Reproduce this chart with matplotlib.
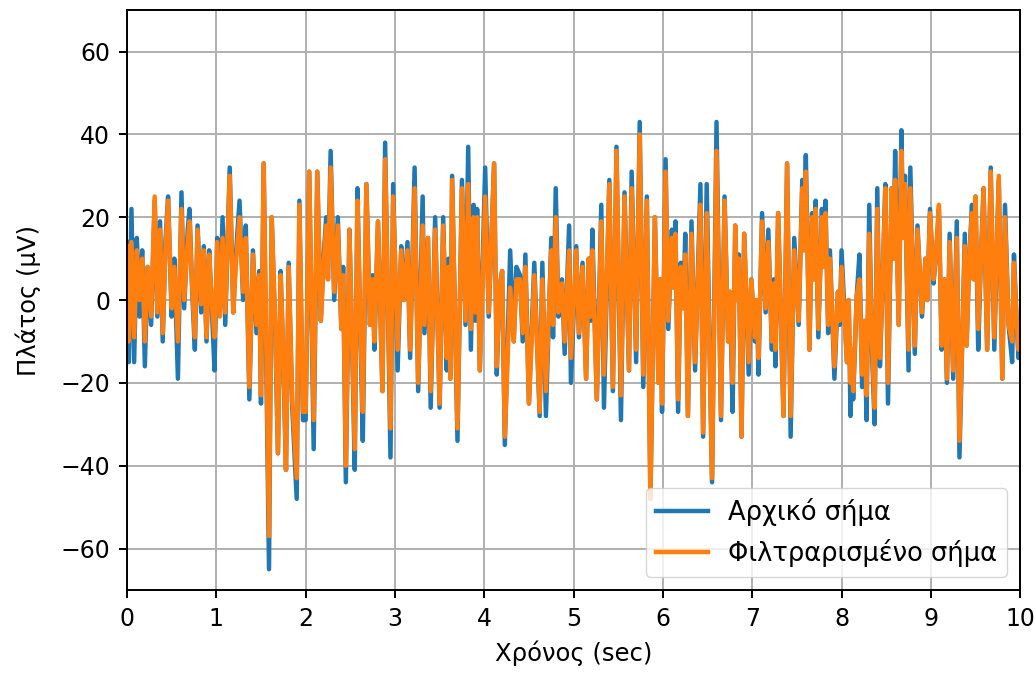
import matplotlib
matplotlib.use("Agg")
import matplotlib.pyplot as plt

# time (sec) of turning points, raw and filtered signal (uV)
t_sec = [0.00, 0.02, 0.05, 0.08, 0.11, 0.14, 0.17, 0.20, 0.23, 0.27, 0.31, 0.34, 0.37, 0.40, 0.43, 0.46,
         0.50, 0.53, 0.57, 0.61, 0.64, 0.68, 0.70, 0.73, 0.76, 0.79, 0.83, 0.86, 0.89, 0.92, 0.95, 0.98,
         1.01, 1.04, 1.07, 1.10, 1.15, 1.19, 1.22, 1.26, 1.30, 1.33, 1.37, 1.41, 1.45, 1.48, 1.50, 1.53,
         1.59, 1.62, 1.66, 1.69, 1.72, 1.75, 1.78, 1.81, 1.85, 1.90, 1.93, 1.97, 2.00, 2.04, 2.09, 2.13,
         2.17, 2.20, 2.23, 2.25, 2.28, 2.32, 2.36, 2.40, 2.42, 2.45, 2.49, 2.52, 2.55, 2.58, 2.61, 2.64,
         2.68, 2.72, 2.75, 2.77, 2.81, 2.86, 2.89, 2.95, 2.98, 3.03, 3.07, 3.10, 3.14, 3.17, 3.22, 3.26,
         3.31, 3.33, 3.37, 3.40, 3.45, 3.50, 3.54, 3.58, 3.60, 3.62, 3.64, 3.70, 3.75, 3.79, 3.82, 3.85,
         3.88, 3.90, 3.92, 3.95, 4.01, 4.05, 4.11, 4.14, 4.17, 4.20, 4.23, 4.29, 4.33, 4.36, 4.40, 4.43,
         4.46, 4.50, 4.56, 4.62, 4.65, 4.69, 4.75, 4.77, 4.80, 4.83, 4.87, 4.90, 4.95, 4.97, 5.03, 5.06,
         5.10, 5.14, 5.17, 5.19, 5.21, 5.26, 5.31, 5.34, 5.40, 5.44, 5.48, 5.53, 5.57, 5.62, 5.65, 5.70,
         5.74, 5.78, 5.82, 5.86, 5.91, 5.95, 5.97, 5.99, 6.03, 6.06, 6.10, 6.12, 6.14, 6.17, 6.20, 6.23,
         6.25, 6.28, 6.32, 6.36, 6.42, 6.45, 6.49, 6.55, 6.60, 6.65, 6.69, 6.73, 6.75, 6.78, 6.81, 6.83,
         6.85, 6.88, 6.91, 6.96, 6.99, 7.03, 7.05, 7.07, 7.11, 7.15, 7.18, 7.22, 7.24, 7.26, 7.29, 7.35,
         7.39, 7.43, 7.47, 7.52, 7.56, 7.575, 7.60, 7.64, 7.67, 7.69, 7.71, 7.74, 7.78, 7.80, 7.82, 7.85,
         7.87, 7.92, 7.96, 7.98, 8.00, 8.06, 8.08, 8.10, 8.115, 8.13, 8.17, 8.20, 8.23, 8.255, 8.28, 8.31,
         8.34, 8.37, 8.40, 8.43, 8.46, 8.49, 8.52, 8.56, 8.58, 8.60, 8.64, 8.67, 8.69, 8.71, 8.75, 8.77,
         8.82, 8.85, 8.90, 8.94, 8.96, 8.99, 9.03, 9.06, 9.09, 9.12, 9.15, 9.18, 9.21, 9.25, 9.29, 9.32,
         9.38, 9.40, 9.43, 9.46, 9.48, 9.50, 9.53, 9.56, 9.59, 9.63, 9.67, 9.71, 9.76, 9.80, 9.83, 9.87,
         9.91, 9.93, 9.96, 9.98, 10.00]

raw_uv = [14, -15, 22, -15, 15, -4, 12, -16, 8, -6, 24, -4, 19, -10, 14, 25,
          -4, 10, -19, 26, -2, 17, 22, 2, -12, 18, -3, 13, -10, 12, -2, -17,
          15, -3, 20, -6, 32, -3, 11, 24, 0, 18, -24, 12, -8, 7, -25, 33,
          -65, 20, -8, -37, 7, -15, -41, 9, -26, -48, 24, -29, -29, 31, -36, 31,
          -5, 10, 20, 5, 36, 0, 20, -7, 8, -44, 17, -10, -41, 27, -5, -34,
          28, -6, 6, -12, 19, -22, 38, -38, 28, -17, 13, 0, 14, -14, 32, -22,
          25, -8, 15, -26, 20, -26, 20, -17, 10, -19, 30, -34, 29, -6, 37, -12,
          23, -5, 22, -17, 32, -4, 33, -18, 3, 7, -35, 12, -10, 8, 6, -10,
          11, -25, 9, -28, 9, -28, 15, -9, 27, -4, 5, -13, 18, -20, 13, -9,
          9, -19, 10, -5, 17, -24, 23, -26, 29, -22, 37, -29, 26, -17, 31, -15,
          43, -21, 25, -48, 20, -20, 5, -27, 34, -7, 17, 3, 19, -27, 9, -2,
          16, -28, 19, -17, 28, -33, 28, -44, 43, -29, 25, -10, 2, -27, 18, 0,
          11, -33, 16, -18, 5, -10, 0, -18, 21, -3, 17, -12, 5, -16, 21, -28,
          33, -33, 15, -6, 29, 12, 35, -12, 21, 5, 24, -9, 22, 8, 24, -8,
          12, -19, 2, -6, 12, -15, 0, -28, -12, -24, 1, 11, -21, -5, -29, 23,
          -12, -30, 27, -16, 5, 28, -25, 27, 10, 36, -6, 41, 15, 30, -17, 32,
          -13, 18, -4, 10, 0, 22, 4, 12, 22, -12, 5, -20, 16, -19, 19, -38,
          16, -11, 10, 23, 5, 25, -12, 10, 27, -12, 32, -12, 29, -19, 23, -6,
          -15, 11, -5, -14, -8]

filt_uv = [13, -10, 14, -9, 12, 0, 10, -10, 8, -4, 25, -3, 17, -8, 12, 24,
           -2, 8, -10, 22, 0, 14, 19, 3, -9, 17, -1, 12, -9, 11, -1, -9,
           14, -4, 15, -3, 30, -3, 9, 20, 2, 15, -21, 11, -6, 6, -23, 33,
           -57, 20, -6, -37, 6, -12, -41, 8, -24, -43, 23, -27, -27, 31, -29, 31,
           -5, 8, 18, 5, 32, 2, 18, -7, 6, -40, 17, -9, -36, 24, -4, -27,
           28, -6, 5, -10, 19, -22, 34, -31, 25, -12, 12, 0, 12, -12, 27, -20,
           18, -6, 15, -22, 17, -25, 18, -14, 8, -19, 29, -31, 27, -5, 28, -7,
           20, -3, 20, -17, 25, -3, 33, -16, 3, 7, -33, 3, -10, 5, 5, -8,
           8, -25, 6, -27, 5, -22, 12, -6, 20, -3, 4, -10, 12, -14, 12, -8,
           8, -19, 10, -4, 12, -24, 19, -18, 28, -21, 36, -23, 25, -17, 27, -12,
           40, -18, 24, -48, 20, -20, 5, -25, 31, -5, 15, 3, 16, -24, 8, -2,
           11, -28, 16, -15, 23, -32, 21, -43, 36, -28, 24, -10, 2, -20, 18, 0,
           10, -33, 16, -15, 5, -9, 0, -14, 19, -2, 14, -10, 4, -12, 21, -28,
           33, -28, 12, -5, 27, 12, 31, -12, 20, 5, 22, -7, 20, 8, 21, -6,
           10, -16, 2, -5, 8, -15, 0, -20, -12, -22, 1, 5, -18, -5, -23, 16,
           -10, -26, 22, -14, 5, 27, -20, 27, 10, 29, -6, 36, 15, 28, -12, 27,
           -11, 17, -3, 10, 0, 21, 5, 12, 23, -11, 5, -19, 14, -17, 15, -34,
           13, -11, 10, 21, 5, 25, -7, 10, 27, -12, 31, -9, 30, -19, 20, -6,
           -10, 9, -5, -12, -6]

fig = plt.figure(figsize=(10.35, 6.75), dpi=100)
ax = fig.add_axes([0.1227, 0.126, 0.863, 0.859])

ax.plot(t_sec, raw_uv, color='#1f77b4', linewidth=3.2, label='Αρχικό σήμα')
ax.plot(t_sec, filt_uv, color='#ff7f0e', linewidth=3.2, label='Φιλτραρισμένο σήμα')

ax.set_xlim(0, 10)
ax.set_ylim(-70, 70)
ax.set_xticks(range(0, 11))
ax.set_yticks([-60, -40, -20, 0, 20, 40, 60])
ax.grid(True, color='#b0b0b0', linewidth=1.4)
ax.tick_params(labelsize=17, length=6, width=1.4, pad=6)
for s in ax.spines.values():
    s.set_linewidth(1.4)

ax.set_xlabel('Χρόνος (sec)', fontsize=17.5, labelpad=7)
ax.set_ylabel('Πλάτος (μV)', fontsize=17.5, labelpad=14)
ax.legend(loc='lower right', fontsize=18.5, handlelength=2.0, borderaxespad=0.5)

fig.savefig('out.png', dpi=100)
